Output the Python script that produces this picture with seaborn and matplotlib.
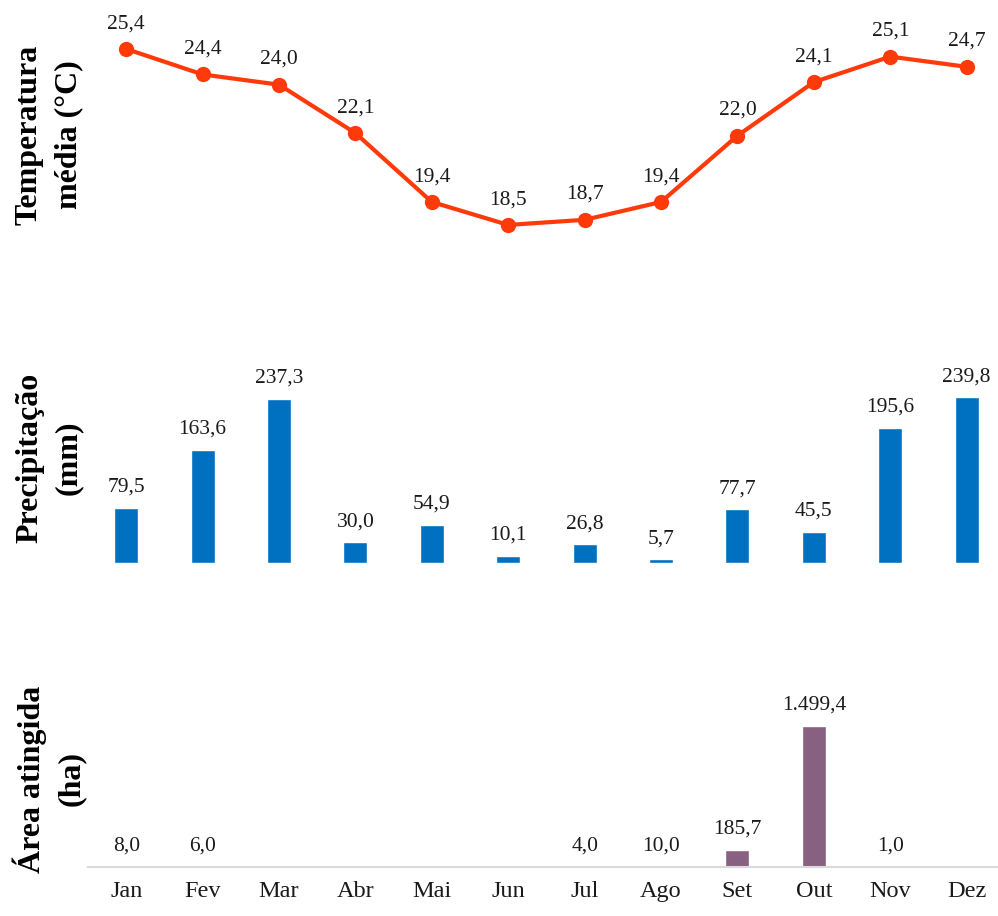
import numpy as np
import pandas as pd
import matplotlib
matplotlib.use("Agg")
import matplotlib.pyplot as plt
import seaborn as sns

months = ["Jan", "Fev", "Mar", "Abr", "Mai", "Jun", "Jul", "Ago", "Set", "Out", "Nov", "Dez"]
temperatura = [25.4, 24.4, 24.0, 22.1, 19.4, 18.5, 18.7, 19.4, 22.0, 24.1, 25.1, 24.7]
precipitacao = [79.5, 163.6, 237.3, 30.0, 54.9, 10.1, 26.8, 5.7, 77.7, 45.5, 195.6, 239.8]
area = [8.0, 6.0, None, None, None, None, 4.0, 10.0, 185.7, 1499.4, 1.0, None]

C_TEMP = "#FF3A0A"
C_PREC = "#0070C0"
C_AREA = "#886182"
C_AXIS = "#D9D9D9"

sns.set_theme(style="white")
plt.rcParams["font.family"] = ["Liberation Serif", "DejaVu Serif"]


def fmt_br(v):
    s = f"{v:,.1f}"
    return s.replace(",", "X").replace(".", ",").replace("X", ".")


df = pd.DataFrame({"mes": months, "pos": np.arange(len(months)),
                   "temp": temperatura, "prec": precipitacao, "area": area})

W, H = 998, 916
fig = plt.figure(figsize=(W / 100, H / 100), dpi=100)


def add_panel(top_px, bottom_px):
    left = 88 / W
    return fig.add_axes([left, 1 - bottom_px / H, 1 - left, (bottom_px - top_px) / H])


ax1 = add_panel(0, 280)
ax2 = add_panel(340, 563)
ax3 = add_panel(640, 867)

# Temperature line
sns.lineplot(data=df, x="pos", y="temp", ax=ax1, color=C_TEMP, linewidth=3,
             marker="o", markersize=11, markeredgewidth=0, markeredgecolor=C_TEMP)
for x, v in zip(df["pos"], temperatura):
    ax1.annotate(fmt_br(v), (x, v), xytext=(0, 15), textcoords="offset points",
                 ha="center", va="baseline", fontsize=15.5, color="#1a1a1a")
ax1.set_ylim(16.34, 27.32)

# Precipitation bars
sns.barplot(data=df, x="mes", y="prec", ax=ax2, color=C_PREC, width=0.314,
            saturation=1, order=months)
for x, v in enumerate(precipitacao):
    ax2.annotate(fmt_br(v), (x, v), xytext=(0, 11.5), textcoords="offset points",
                 ha="center", va="baseline", fontsize=15.5, color="#1a1a1a")
ax2.set_ylim(0, 322.2)

# Burned area bars
area_df = df.dropna(subset=["area"])
sns.barplot(data=area_df, x="mes", y="area", ax=ax3, color=C_AREA, width=0.314,
            saturation=1, order=months)
for x, v in enumerate(area):
    if v is None:
        continue
    ax3.annotate(fmt_br(v), (x, v), xytext=(0, 11.5), textcoords="offset points",
                 ha="center", va="baseline", fontsize=15.5, color="#1a1a1a")
ax3.set_ylim(0, 2414)

for ax in (ax1, ax2, ax3):
    ax.set_xlim(-0.5, 11.41)
    ax.set_xlabel("")
    ax.set_ylabel("")
    ax.set_yticks([])
    for side in ("top", "right", "left", "bottom"):
        ax.spines[side].set_visible(False)
    ax.set_facecolor("none")

ax1.set_xticks([])
ax2.set_xticks([])
ax3.set_xticks(range(len(months)))
ax3.set_xticklabels(months, fontsize=17.5, color="#1a1a1a")
ax3.tick_params(axis="x", length=0, pad=10)
ax3.spines["bottom"].set_visible(True)
ax3.spines["bottom"].set_color(C_AXIS)
ax3.spines["bottom"].set_linewidth(1.5)

label_kw = dict(rotation=90, ha="center", va="center", multialignment="center",
                fontsize=23, fontweight="bold", color="black", linespacing=1.45)
fig.text(49 / W, 1 - 135 / H, "Temperatura\nmédia (°C)", **label_kw)
fig.text(49 / W, 1 - 458 / H, "Precipitação\n(mm)", **label_kw)
fig.text(49 / W, 1 - 779 / H, "Área atingida\n(ha)", **label_kw)

fig.savefig("out.png", dpi=100, facecolor="white")
